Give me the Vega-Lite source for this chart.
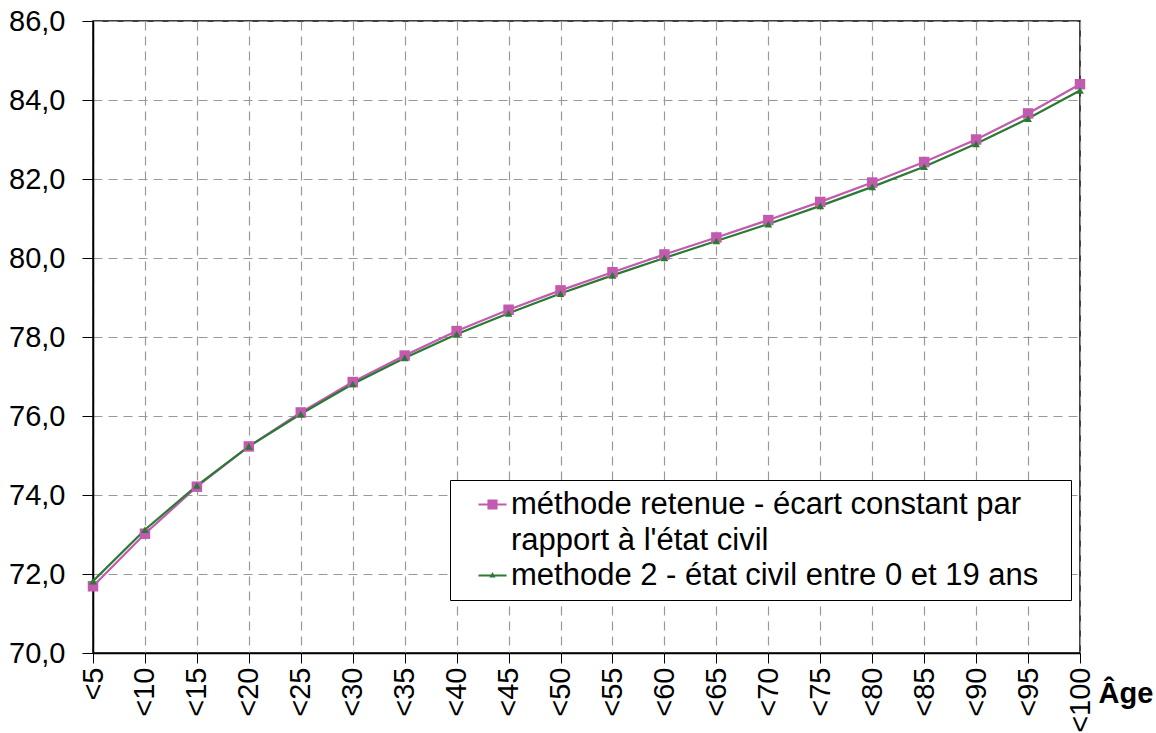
{
  "$schema": "https://vega.github.io/schema/vega-lite/v6.json",
  "width": 987,
  "height": 632,
  "autosize": {"type": "none"},
  "padding": {"left": 93, "top": 21, "right": 76, "bottom": 80},
  "background": "white",
  "config": {
    "font": "Liberation Sans",
    "view": {"stroke": "black", "strokeWidth": 1.5},
    "style": {"guide-label": {"lineHeight": 36}}
  },
  "data": {
    "values": [
      {"age": "<5", "serie": "méthode retenue - écart constant par rapport à l'état civil", "v": 71.69},
      {"age": "<10", "serie": "méthode retenue - écart constant par rapport à l'état civil", "v": 73.02},
      {"age": "<15", "serie": "méthode retenue - écart constant par rapport à l'état civil", "v": 74.21},
      {"age": "<20", "serie": "méthode retenue - écart constant par rapport à l'état civil", "v": 75.23},
      {"age": "<25", "serie": "méthode retenue - écart constant par rapport à l'état civil", "v": 76.09},
      {"age": "<30", "serie": "méthode retenue - écart constant par rapport à l'état civil", "v": 76.86},
      {"age": "<35", "serie": "méthode retenue - écart constant par rapport à l'état civil", "v": 77.53},
      {"age": "<40", "serie": "méthode retenue - écart constant par rapport à l'état civil", "v": 78.15},
      {"age": "<45", "serie": "méthode retenue - écart constant par rapport à l'état civil", "v": 78.69},
      {"age": "<50", "serie": "méthode retenue - écart constant par rapport à l'état civil", "v": 79.18},
      {"age": "<55", "serie": "méthode retenue - écart constant par rapport à l'état civil", "v": 79.64},
      {"age": "<60", "serie": "méthode retenue - écart constant par rapport à l'état civil", "v": 80.09},
      {"age": "<65", "serie": "méthode retenue - écart constant par rapport à l'état civil", "v": 80.52},
      {"age": "<70", "serie": "méthode retenue - écart constant par rapport à l'état civil", "v": 80.96},
      {"age": "<75", "serie": "méthode retenue - écart constant par rapport à l'état civil", "v": 81.42},
      {"age": "<80", "serie": "méthode retenue - écart constant par rapport à l'état civil", "v": 81.91},
      {"age": "<85", "serie": "méthode retenue - écart constant par rapport à l'état civil", "v": 82.43},
      {"age": "<90", "serie": "méthode retenue - écart constant par rapport à l'état civil", "v": 83.00},
      {"age": "<95", "serie": "méthode retenue - écart constant par rapport à l'état civil", "v": 83.66},
      {"age": "<100", "serie": "méthode retenue - écart constant par rapport à l'état civil", "v": 84.40},
      {"age": "<5", "serie": "methode 2 - état civil entre 0 et 19 ans", "v": 71.82},
      {"age": "<10", "serie": "methode 2 - état civil entre 0 et 19 ans", "v": 73.12},
      {"age": "<15", "serie": "methode 2 - état civil entre 0 et 19 ans", "v": 74.24},
      {"age": "<20", "serie": "methode 2 - état civil entre 0 et 19 ans", "v": 75.23},
      {"age": "<25", "serie": "methode 2 - état civil entre 0 et 19 ans", "v": 76.05},
      {"age": "<30", "serie": "methode 2 - état civil entre 0 et 19 ans", "v": 76.81},
      {"age": "<35", "serie": "methode 2 - état civil entre 0 et 19 ans", "v": 77.47},
      {"age": "<40", "serie": "methode 2 - état civil entre 0 et 19 ans", "v": 78.07},
      {"age": "<45", "serie": "methode 2 - état civil entre 0 et 19 ans", "v": 78.60},
      {"age": "<50", "serie": "methode 2 - état civil entre 0 et 19 ans", "v": 79.10},
      {"age": "<55", "serie": "methode 2 - état civil entre 0 et 19 ans", "v": 79.56},
      {"age": "<60", "serie": "methode 2 - état civil entre 0 et 19 ans", "v": 80.00},
      {"age": "<65", "serie": "methode 2 - état civil entre 0 et 19 ans", "v": 80.43},
      {"age": "<70", "serie": "methode 2 - état civil entre 0 et 19 ans", "v": 80.86},
      {"age": "<75", "serie": "methode 2 - état civil entre 0 et 19 ans", "v": 81.32},
      {"age": "<80", "serie": "methode 2 - état civil entre 0 et 19 ans", "v": 81.80},
      {"age": "<85", "serie": "methode 2 - état civil entre 0 et 19 ans", "v": 82.31},
      {"age": "<90", "serie": "methode 2 - état civil entre 0 et 19 ans", "v": 82.89},
      {"age": "<95", "serie": "methode 2 - état civil entre 0 et 19 ans", "v": 83.53},
      {"age": "<100", "serie": "methode 2 - état civil entre 0 et 19 ans", "v": 84.24}
    ]
  },
  "encoding": {
    "x": {
      "field": "age", "type": "ordinal", "sort": null,
      "scale": {"type": "point", "padding": 0},
      "axis": {
        "title": "Âge", "titleFontSize": 29, "titleFontWeight": "bold", "titleColor": "black",
        "titleAlign": "left", "titleBaseline": "middle", "titleAngle": 0, "titleX": 1005, "titleY": 40,
        "labelAngle": -90, "labelAlign": "right", "labelBaseline": "middle",
        "labelFontSize": 29, "labelColor": "black", "labelPadding": 4,
        "tickSize": 10, "tickColor": "black", "domainColor": "black", "domainWidth": 1.5,
        "grid": true, "gridColor": "#999999", "gridDash": [9, 6], "gridWidth": 1.2
      }
    },
    "y": {
      "field": "v", "type": "quantitative",
      "scale": {"domain": [70, 86], "nice": false, "zero": false},
      "axis": {
        "title": null, "values": [70, 72, 74, 76, 78, 80, 82, 84, 86],
        "labelExpr": "replace(format(datum.value, '.1f'), '.', ',')",
        "labelFontSize": 29, "labelColor": "black", "labelPadding": 17,
        "tickSize": 11, "tickColor": "black", "domainColor": "black", "domainWidth": 1.5,
        "grid": true, "gridColor": "#999999", "gridDash": [9, 6], "gridWidth": 1.2
      }
    },
    "color": {
      "field": "serie", "type": "nominal",
      "scale": {
        "domain": ["méthode retenue - écart constant par rapport à l'état civil", "methode 2 - état civil entre 0 et 19 ans"],
        "range": ["#C25AB0", "#2A7A32"]
      },
      "legend": {
        "title": null, "orient": "none", "legendX": 357, "legendY": 459,
        "strokeColor": "black", "fillColor": "white", "padding": 9,
        "labelFontSize": 31, "labelColor": "black", "labelLimit": 700,
        "symbolSize": 784, "symbolOffset": 18, "labelOffset": 3, "rowPadding": 3, "symbolStrokeWidth": 0,
        "labelExpr": "datum.label == \"méthode retenue - écart constant par rapport à l'état civil\" ? [\"méthode retenue - écart constant par\", \"rapport à l'état civil\"] : datum.label + \"\u2800\""
      }
    }
  },
  "layer": [
    {"mark": {"type": "line", "strokeWidth": 2.2}},
    {
      "transform": [{"filter": "datum.serie == \"méthode retenue - écart constant par rapport à l'état civil\""}],
      "mark": {"type": "point", "filled": true, "opacity": 1, "shape": "square", "size": 110}
    },
    {
      "transform": [{"filter": "datum.serie == \"methode 2 - état civil entre 0 et 19 ans\""}],
      "mark": {"type": "point", "filled": true, "opacity": 1, "shape": "triangle-up", "size": 60}
    },
    {
      "transform": [{"filter": "false"}],
      "mark": {"type": "point", "filled": true, "opacity": 1},
      "encoding": {
        "shape": {
          "field": "serie", "type": "nominal",
          "scale": {
            "domain": ["méthode retenue - écart constant par rapport à l'état civil", "methode 2 - état civil entre 0 et 19 ans"],
            "range": ["M-1,-0.07H1V0.07H-1Z M-0.36,-0.36H0.36V0.36H-0.36Z", "M-1,-0.07H1V0.07H-1Z M0,-0.25L0.22,0.15H-0.22Z"]
          },
          "legend": {
            "title": null, "orient": "none", "legendX": 357, "legendY": 459,
            "strokeColor": "black", "fillColor": "white", "padding": 9,
            "labelFontSize": 31, "labelColor": "black", "labelLimit": 700,
            "symbolSize": 784, "symbolOffset": 18, "labelOffset": 3, "rowPadding": 3, "symbolStrokeWidth": 0,
            "labelExpr": "datum.label == \"méthode retenue - écart constant par rapport à l'état civil\" ? [\"méthode retenue - écart constant par\", \"rapport à l'état civil\"] : datum.label + \"\u2800\""
          }
        }
      }
    }
  ]
}
